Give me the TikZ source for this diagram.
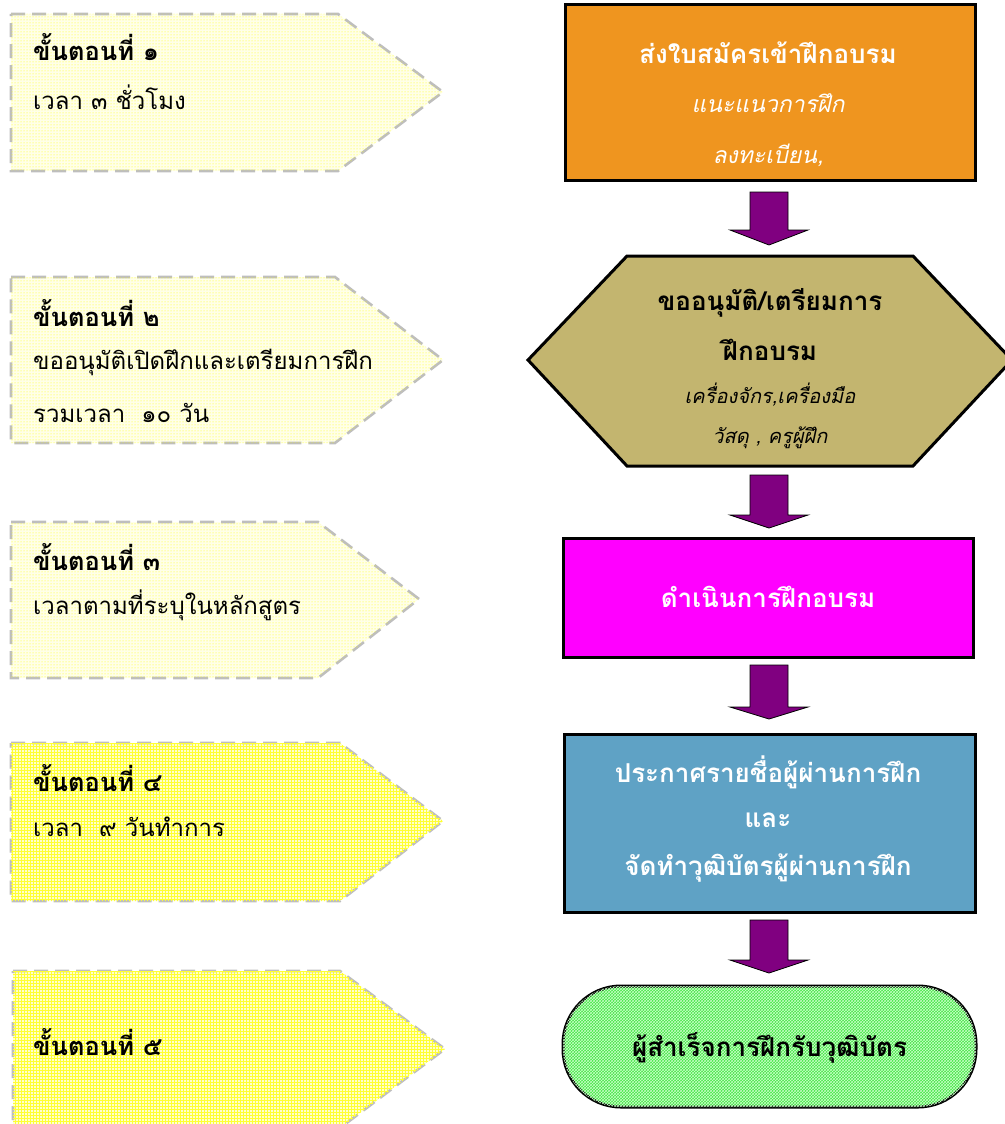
\documentclass[tikz,border=0pt]{standalone}
\usepackage{fontspec}
\setmainfont[Script=Thai]{Loma}
\usetikzlibrary{patterns}
\definecolor{orangebox}{RGB}{239,149,31}
\definecolor{tanbox}{RGB}{195,181,111}
\definecolor{magbox}{RGB}{255,0,255}
\definecolor{bluebox}{RGB}{95,162,197}
\definecolor{arrowpurple}{RGB}{128,0,128}
\definecolor{greenbox}{RGB}{70,228,70}
\definecolor{greenline}{RGB}{200,255,200}
\definecolor{dashgray}{RGB}{190,190,190}
\definecolor{paleyellow}{RGB}{255,255,232}
\definecolor{midyellow}{RGB}{255,255,205}
\tikzset{
  stepshapeA/.style={draw=dashgray, line width=2.6pt, dash pattern=on 14pt off 7pt, fill=paleyellow, postaction={pattern=dots, pattern color=yellow}},
  stepshapeB/.style={draw=dashgray, line width=2.6pt, dash pattern=on 14pt off 7pt, fill=midyellow, postaction={pattern=grid, pattern color=yellow!80}},
  steptext/.style={anchor=west, font=\fontsize{24}{28}\selectfont, inner sep=0pt},
  stephead/.style={anchor=west, font=\fontsize{25.5}{28}\selectfont\bfseries, inner sep=0pt},
  flowbox/.style={draw=black, line width=3pt, inner sep=0pt},
  boldline/.style={inner sep=0pt, font=\fontsize{26}{30}\selectfont\bfseries},
  italine/.style={inner sep=0pt, font=\fontsize{23}{28}\selectfont\itshape},
  blockarrow/.style={draw=black, line width=0.8pt, fill=arrowpurple, line join=miter},
}
\newcommand\myarrow[3]{% top, base, tip
  \draw[blockarrow] (750,#1) -- (788,#1) -- (788,#2) -- (808,#2) -- (769,#3) -- (730,#2) -- (750,#2) -- cycle;}
\begin{document}
\begin{tikzpicture}[x=1pt,y=-1pt]
\useasboundingbox (0,0) rectangle (1004,1124);
\fill[white] (0,0) rectangle (1004,1124);
% ---------- left step shapes ----------
\draw[stepshapeA] (11,14) -- (338,14) -- (443,92) -- (338,171) -- (11,171) -- cycle;
\draw[stepshapeA] (11,277) -- (335,277) -- (443,360) -- (335,443) -- (11,443) -- cycle;
\draw[stepshapeA] (11,522) -- (318,522) -- (419,599) -- (318,678) -- (11,678) -- cycle;
\draw[stepshapeB] (11,743) -- (340,743) -- (443,821) -- (340,901) -- (11,901) -- cycle;
\draw[stepshapeB] (13,971) -- (340,971) -- (445,1049) -- (340,1128) -- (13,1128) -- cycle;
\node[stephead] (s1a) at (33,47) {ขั้นตอนที่ ๑};
\node[steptext] (s1b) at (33,97) {เวลา ๓ ชั่วโมง};
\node[stephead] (s2a) at (33,313) {ขั้นตอนที่ ๒};
\node[steptext] (s2b) at (33,362) {ขออนุมัติเปิดฝึกและเตรียมการฝึก};
\node[steptext] (s2c) at (33,413) {รวมเวลา\ \ ๑๐ วัน};
\node[stephead] (s3a) at (33,557) {ขั้นตอนที่ ๓};
\node[steptext] (s3b) at (33,605) {เวลาตามที่ระบุในหลักสูตร};
\node[stephead] (s4a) at (33,778) {ขั้นตอนที่ ๔};
\node[steptext] (s4b) at (33,827) {เวลา\ \ ๙ วันทำการ};
\node[stephead] (s5a) at (33,1042) {ขั้นตอนที่ ๕};
% ---------- right flow ----------
\node[flowbox, fill=orangebox, minimum width=410, minimum height=175] (b1) at (770,92.5) {};
\node[boldline, text=white] (b1a) at (768,53) {ส่งใบสมัครเข้าฝึกอบรม};
\node[italine, text=white] (b1b) at (768,103) {แนะแนวการฝึก};
\node[italine, text=white] (b1c) at (768,155) {ลงทะเบียน,};
\draw[line width=3pt, fill=tanbox, line join=miter] (528,360) -- (627,256) -- (913,256) -- (1012,360) -- (913,466) -- (627,466) -- cycle;
\node[boldline] (b2a) at (770,303) {ขออนุมัติ/เตรียมการ};
\node[boldline] (b2b) at (770,350) {ฝึกอบรม};
\node[italine, font=\fontsize{20}{24}\selectfont\itshape] (b2c) at (770,395) {เครื่องจักร,เครื่องมือ};
\node[italine, font=\fontsize{20}{24}\selectfont\itshape] (b2d) at (770,438) {วัสดุ , ครูผู้ฝึก};
\node[flowbox, fill=magbox, minimum width=410, minimum height=119] (b3) at (768,597.5) {};
\node[boldline, text=white] (b3a) at (768,597) {ดำเนินการฝึกอบรม};
\node[flowbox, fill=bluebox, minimum width=411, minimum height=178] (b4) at (769.5,823) {};
\node[boldline, text=white] (b4a) at (768,772) {ประกาศรายชื่อผู้ผ่านการฝึก};
\node[boldline, text=white] (b4b) at (768,820) {และ};
\node[boldline, text=white] (b4c) at (768,868) {จัดทำวุฒิบัตรผู้ผ่านการฝึก};
\draw[line width=3pt, fill=greenbox, rounded corners=58pt, postaction={pattern=crosshatch, pattern color=greenline}] (563,986) rectangle (976,1107);
\node[boldline] (b5) at (769.5,1048) {ผู้สำเร็จการฝึกรับวุฒิบัตร};
% ---------- block arrows ----------
\myarrow{192}{230}{245}
\myarrow{475}{515}{528}
\myarrow{665}{707}{719}
\myarrow{920}{960}{973}
\end{tikzpicture}
\end{document}
